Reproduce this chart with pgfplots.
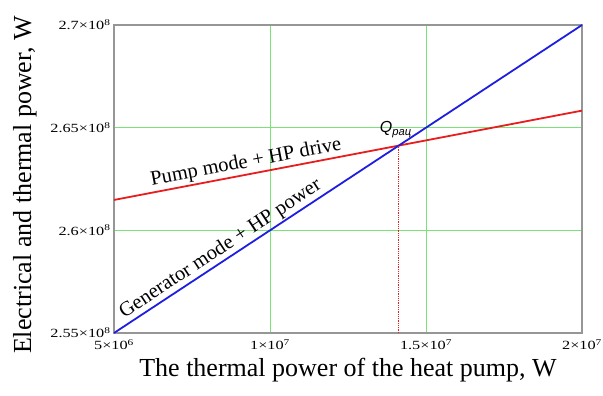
\documentclass[border=0pt]{standalone}
\usepackage{fontspec}
\setmainfont{Liberation Serif}
\newfontfamily\tickfont{Liberation Serif}[FakeStretch=1.3]
\newfontfamily\qfont{Liberation Sans}
\usepackage{pgfplots}
\pgfplotsset{compat=1.18}
\usetikzlibrary{calc}
\definecolor{redline}{RGB}{232,30,30}
\definecolor{blueline}{RGB}{30,30,225}
\definecolor{gridgreen}{RGB}{120,228,120}
\definecolor{framegray}{RGB}{150,150,150}
\begin{document}
\begin{tikzpicture}
\begin{axis}[name=ax, scale only axis, width=468pt, height=308pt,
  xmin=5e6, xmax=2e7, ymin=2.55e8, ymax=2.7e8,
  scaled ticks=false,
  xtick={1e7,1.5e7}, xticklabels={1×10\textsuperscript{7},1.5×10\textsuperscript{7}},
  extra x ticks={5e6,2e7}, extra x tick labels={5×10\textsuperscript{6},2×10\textsuperscript{7}},
  extra x tick style={grid=none},
  ytick={2.6e8,2.65e8}, yticklabels={2.6×10\textsuperscript{8},2.65×10\textsuperscript{8}},
  extra y ticks={2.55e8,2.7e8}, extra y tick labels={2.55×10\textsuperscript{8},2.7×10\textsuperscript{8}},
  extra y tick style={grid=none},
  ticklabel style={font=\tickfont\fontsize{12.5}{14}\selectfont},
  xticklabel style={yshift=-3pt},
  major tick length=0pt,
  axis line style={draw=framegray, line width=1.6pt},
  grid=major, major grid style={color=gridgreen, line width=0.9pt},
  xlabel={The thermal power of the heat pump, W},
  ylabel={Electrical and thermal power, W},
  xlabel shift=2pt, ylabel shift=7pt,
  ylabel style={at={(ticklabel cs:0.48)}},
  label style={font=\fontsize{26}{30}\selectfont},
  clip=false]
\addplot[redline, line width=1.8pt] coordinates {(5e6,2.6148e8) (2e7,2.6583e8)};
\addplot[blueline, line width=1.8pt] coordinates {(5e6,2.55e8) (2e7,2.7e8)};
\addplot[redline, densely dotted, line width=0.8pt] coordinates {(1.4127e7,2.55e8) (1.4127e7,2.6413e8)};
\node[rotate=10.8, anchor=south, inner sep=2pt, font=\fontsize{20.5}{24}\selectfont] at (axis cs:9.3e6,2.6274e8) {Pump mode + HP drive};
\node[rotate=33.35, anchor=south, inner sep=2pt, font=\fontsize{20.5}{24}\selectfont] at (axis cs:8.62e6,2.5862e8) {Generator mode + HP power};
\node[anchor=south, inner sep=1pt, xshift=-3pt, yshift=7pt, font=\qfont\itshape\fontsize{16}{18}\selectfont] at (axis cs:1.4127e7,2.6413e8) {Q\textsubscript{рац}};
\end{axis}
\pgfresetboundingbox
\path[use as bounding box] ($(ax.south west)+(-114pt,-63pt)$) rectangle ($(ax.north east)+(21pt,25pt)$);
\end{tikzpicture}
\end{document}
